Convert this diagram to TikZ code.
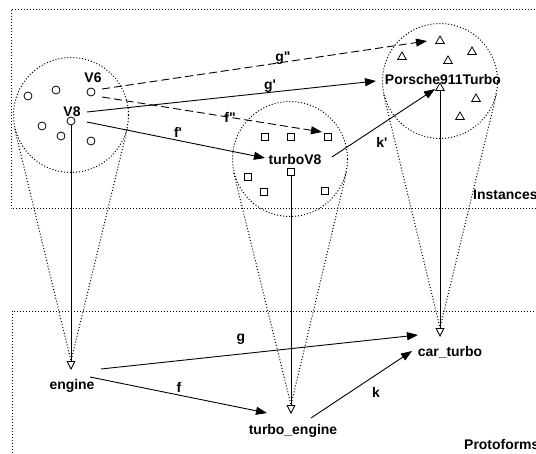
\documentclass[tikz,border=0pt]{standalone}
\usepackage{fontspec}
\setmainfont{Liberation Sans}
\usetikzlibrary{arrows.meta,calc,shapes.geometric}
\begin{document}
\begin{tikzpicture}[x=1bp,y=-1bp,
  lbl/.style={font=\fontsize{14}{16}\selectfont\bfseries, inner sep=0},
  dotline/.style={line width=1bp, dash pattern=on 1bp off 2bp},
  grp/.style={circle, draw, dotline, minimum size=115bp, inner sep=0},
  inst/.style={circle, draw, line width=0.8bp, minimum size=8bp, inner sep=0},
  sq/.style={rectangle, draw, line width=0.8bp, minimum size=7bp, inner sep=0},
  tri/.style={regular polygon, regular polygon sides=3, draw, line width=0.8bp, minimum size=10bp, inner sep=0},
  fa/.style={-{Triangle[length=11bp,width=8bp]}, line width=0.9bp},
  oa/.style={-{Triangle[open,length=9bp,width=9bp]}, line width=0.9bp},
  dsh/.style={fa, dash pattern=on 8bp off 4bp}
]
\useasboundingbox (0,0) rectangle (536,454);
\clip (0,0) rectangle (536,454);
\fill[white] (0,0) rectangle (536,454);

% layer boxes
\draw[dotline] (11,10) rectangle (560,209);
\draw[dotline] (12,311) rectangle (560,480);
\node[lbl, anchor=west] (instances) at (473,195) {Instances};
\node[lbl, anchor=west] (protoforms) at (464,445) {Protoforms};

% groups
\node[grp] (G1) at (71,115) {};
\node[grp] (G2) at (290,159) {};
\node[grp] (G3) at (440,81) {};

% apex coordinates
\coordinate (A1) at (71,361);
\coordinate (A2) at (291,405);
\coordinate (A3) at (440,328);

% cones
\foreach \g/\a in {G1/A1, G2/A2, G3/A3} {
  \draw[dotline] (tangent cs:node=\g,point={(\a)},solution=1) -- (\a);
  \draw[dotline] (tangent cs:node=\g,point={(\a)},solution=2) -- (\a);
}

% instances: engines
\node[inst] (c1) at (28,96) {};
\node[inst] (c2) at (56,90) {};
\node[inst] (v6) at (91,92) {};
\node[inst] (v8) at (71,121) {};
\node[inst] (c5) at (42,126) {};
\node[inst] (c6) at (61,136) {};
\node[inst] (c7) at (91,141) {};
\node[lbl] (v6l) at (93,78) {V6};
\node[lbl] (v8l) at (72,112) {V8};

% instances: turbo engines
\node[sq] (s1) at (265,137) {};
\node[sq] (s2) at (291,137) {};
\node[sq] (s3) at (328,137) {};
\node[sq] (s4) at (248,177) {};
\node[sq] (s5) at (264,192) {};
\node[sq] (tv8) at (291,172) {};
\node[sq] (s7) at (325,191) {};
\node[lbl] (tv8l) at (295,160) {turboV8};

% instances: cars
\node[tri] (t1) at (440,41) {};
\node[tri] (t2) at (402,57) {};
\node[tri] (t3) at (448,61) {};
\node[tri] (t4) at (472,52) {};
\node[tri] (p911) at (440,88) {};
\node[tri] (t6) at (476,99) {};
\node[tri] (t7) at (460,117) {};
\node[lbl] (p911l) at (443,80) {Porsche911Turbo};

% protoforms
\node[lbl] (engine) at (72,386) {engine};
\node[lbl] (turboengine) at (293,431) {turbo\_engine};
\node[lbl] (carturbo) at (450,352) {car\_turbo};

% instance-of lines
\draw[oa] (v8.south) -- (71,370);
\draw[oa] (tv8.south) -- (291,414);
\draw[oa] (p911.south) -- (440,337);

% instance-level arrows
\coordinate (g2s) at (102,89);  \coordinate (g2e) at (427,41);
\coordinate (f2s) at (102,97);  \coordinate (f2e) at (322,132);
\coordinate (g1s) at (87,112);  \coordinate (g1e) at (376,81);
\coordinate (f1s) at (87,122);  \coordinate (f1e) at (265,158);
\coordinate (k1s) at (332,157); \coordinate (k1e) at (435,89);
\draw[dsh] (g2s) -- (g2e);
\draw[dsh] (f2s) -- (f2e);
\draw[fa] (g1s) -- (g1e);
\draw[fa] (f1s) -- (f1e);
\draw[fa] (k1s) -- (k1e);

% protoform arrows
\coordinate (gs) at (101,369); \coordinate (ge) at (418,335);
\coordinate (fs) at (90,377);  \coordinate (fe) at (267,413);
\coordinate (ks) at (311,418); \coordinate (ke) at (412,351);
\draw[fa] (gs) -- (ge);
\draw[fa] (fs) -- (fe);
\draw[fa] (ks) -- (ke);

% arrow labels
\node[lbl] (lg2) at (283,58) {g\textquotedbl};
\node[lbl] (lg1) at (270,86) {g\textquotesingle};
\node[lbl] (lf2) at (230,117) {f\textquotedbl};
\node[lbl] (lf1) at (178,132) {f\textquotesingle};
\node[lbl] (lk1) at (382,142) {k\textquotesingle};
\node[lbl] (lg) at (241,339) {g};
\node[lbl] (lf) at (179,387) {f};
\node[lbl] (lk) at (376,392) {k};
\end{tikzpicture}
\end{document}
